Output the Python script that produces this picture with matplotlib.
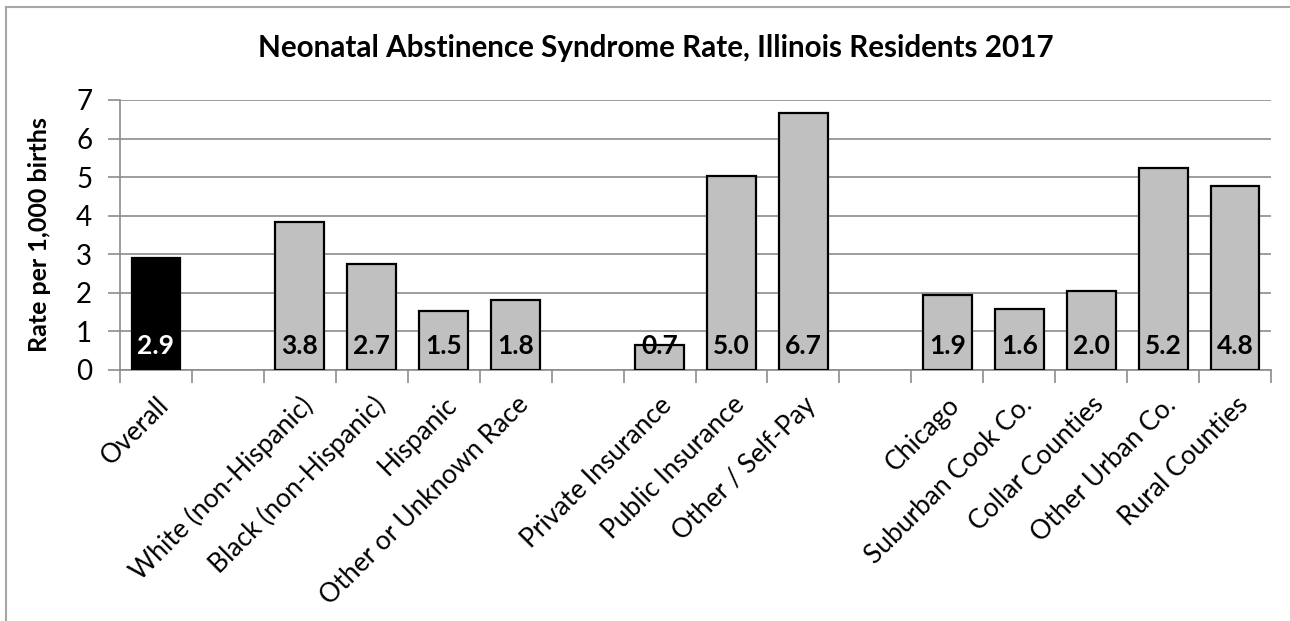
import matplotlib
matplotlib.use('Agg')
import matplotlib.pyplot as plt
from matplotlib.lines import Line2D

plt.rcParams['font.family'] = ['Lato', 'DejaVu Sans']

# categories ('' = empty spacer slot between groups)
categories = ['Overall', '',
              'White (non-Hispanic)', 'Black (non-Hispanic)', 'Hispanic', 'Other or Unknown Race', '',
              'Private Insurance', 'Public Insurance', 'Other / Self-Pay', '',
              'Chicago', 'Suburban Cook Co.', 'Collar Counties', 'Other Urban Co.', 'Rural Counties']
rates = [2.9, None,
         3.84, 2.74, 1.53, 1.81, None,
         0.66, 5.03, 6.66, None,
         1.94, 1.57, 2.04, 5.24, 4.76]

fig = plt.figure(figsize=(12.9, 6.21), dpi=100)
ax = fig.add_axes([120/1290, 251/621, 1151/1290, 270/621])

grid_col = '#8c8c8c'
for i, (cat, val) in enumerate(zip(categories, rates)):
    if val is None:
        continue
    col = 'black' if i == 0 else '#c0c0c0'
    ax.bar(i, val, width=0.68, color=col, edgecolor='black', linewidth=1.6, zorder=3)
    ax.text(i, 0.62, '%.1f' % val, ha='center', va='center', fontsize=19, fontweight='bold',
            color='white' if i == 0 else 'black', zorder=4)

ax.set_xlim(-0.5, len(categories) - 0.5)
ax.set_ylim(0, 7)
ax.set_yticks(range(0, 8))
ax.tick_params(axis='y', labelsize=20, length=9, color=grid_col, width=1.2, pad=11)
ax.yaxis.grid(True, color=grid_col, linewidth=1.2, zorder=0)

# category labels at bar centres, boundary ticks between slots
ax.set_xticks(range(len(categories)))
ax.set_xticklabels(categories, rotation=45, ha='right', rotation_mode='anchor', fontsize=19)
ax.tick_params(axis='x', length=0, pad=16)
ax.set_xticks([b - 0.5 for b in range(len(categories) + 1)], minor=True)
ax.tick_params(axis='x', which='minor', length=9, color=grid_col, width=1.2)

for s in ['top', 'right']:
    ax.spines[s].set_visible(False)
for s in ['left', 'bottom']:
    ax.spines[s].set_color(grid_col)
    ax.spines[s].set_linewidth(1.2)

ax.set_ylabel('Rate per 1,000 births', fontsize=18, fontweight='bold', labelpad=18)
fig.text(0.508, 0.922, 'Neonatal Abstinence Syndrome Rate, Illinois Residents 2017',
         ha='center', va='center', fontsize=21.3, fontweight='bold')

# chart area border (left and top visible)
fig.add_artist(Line2D([5.5/1290, 5.5/1290], [0, 1 - 7/621], color='#a6a6a6', linewidth=1.5))
fig.add_artist(Line2D([5.5/1290, 1], [1 - 7/621, 1 - 7/621], color='#a6a6a6', linewidth=1.5))

fig.savefig('out.png', dpi=100)
